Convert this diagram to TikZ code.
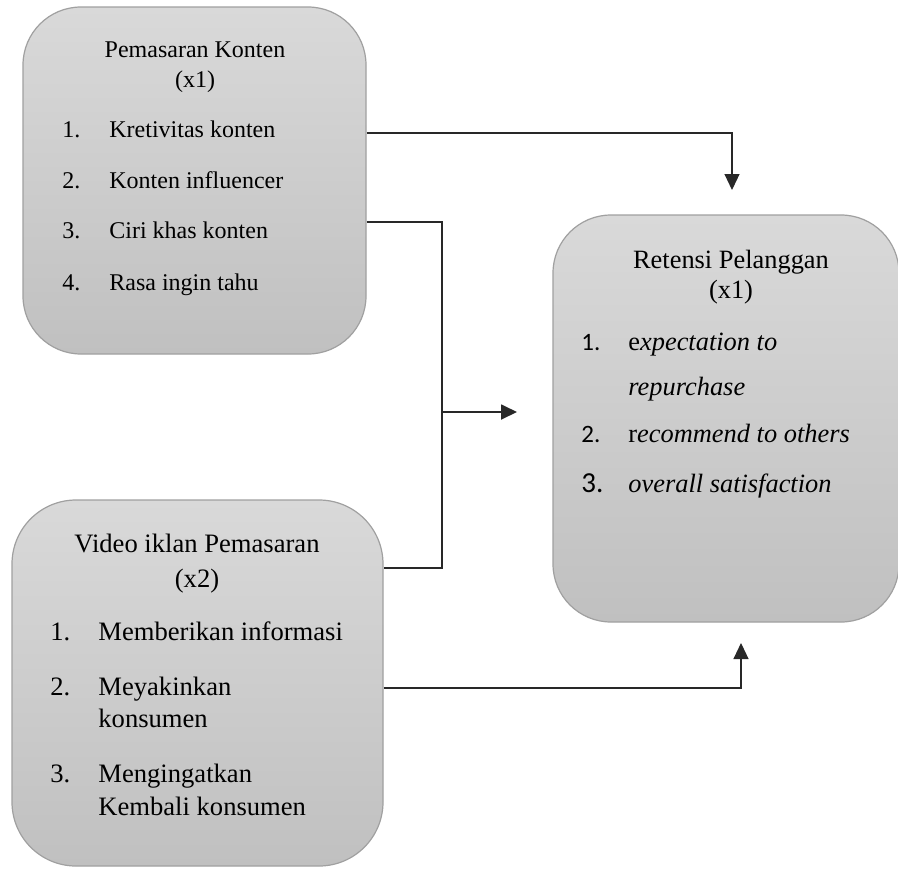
\documentclass[tikz,border=0pt]{standalone}
\usepackage{fontspec}
\setmainfont{Liberation Serif}
\newfontfamily\numfont{Carlito}
\usetikzlibrary{arrows.meta,positioning}

\definecolor{boxtop}{RGB}{217,217,217}
\definecolor{boxbottom}{RGB}{192,192,192}
\definecolor{boxline}{RGB}{160,160,160}
\definecolor{linkline}{RGB}{40,40,40}

\begin{document}
\begin{tikzpicture}[x=0.5pt, y=-0.5pt, >={Triangle[length=8pt,width=7.5pt]},
    varbox/.style={draw=boxline, line width=0.6pt, rounded corners=29pt,
        top color=boxtop, bottom color=boxbottom, inner sep=0pt},
    title/.style={anchor=base, inner sep=0pt},
    item/.style={anchor=base west, inner sep=0pt},
    link/.style={draw=linkline, line width=0.6pt}]

    \useasboundingbox (0,0) rectangle (898,868);

    % Variable boxes
    \node[varbox, minimum width=171.5pt, minimum height=173.5pt] (konten) at (194.5,180.5) {};
    \node[varbox, minimum width=185.5pt, minimum height=183pt, rounded corners=32pt] (video) at (197.5,683) {};
    \node[varbox, minimum width=173pt, minimum height=203.5pt] (retensi) at (726,418.5) {};

    % Pemasaran Konten (x1)
    \begin{scope}[font=\fontsize{12}{14}\selectfont]
        \node[title] (kontenT) at (195,57) {Pemasaran Konten};
        \node[title] (kontenX) at (195,87) {(x1)};
        \node[item] (kN1) at (62,137) {1.};
        \node[item] (kI1) at (109,137) {Kretivitas konten};
        \node[item] (kN2) at (62,188) {2.};
        \node[item] (kI2) at (109,188) {Konten influencer};
        \node[item] (kN3) at (62,238) {3.};
        \node[item] (kI3) at (109,238) {Ciri khas konten};
        \node[item] (kN4) at (62,290) {4.};
        \node[item] (kI4) at (109,290) {Rasa ingin tahu};
    \end{scope}

    % Video iklan Pemasaran (x2)
    \begin{scope}[font=\fontsize{13.3}{15}\selectfont]
        \node[title] (videoT) at (197,552) {Video iklan Pemasaran};
        \node[title] (videoX) at (197,587) {(x2)};
        \node[item] (vN1) at (50,640) {1.};
        \node[item] (vI1) at (98,640) {Memberikan informasi};
        \node[item] (vN2) at (50,695) {2.};
        \node[item] (vI2) at (98,695) {Meyakinkan};
        \node[item] (vI2b) at (98,727) {konsumen};
        \node[item] (vN3) at (50,782) {3.};
        \node[item] (vI3) at (98,782) {Mengingatkan};
        \node[item] (vI3b) at (98,815) {Kembali konsumen};
    \end{scope}

    % Retensi Pelanggan (x1)
    \begin{scope}[font=\fontsize{13.2}{15}\selectfont]
        \node[title] (retensiT) at (731,268) {Retensi Pelanggan};
        \node[title] (retensiX) at (731,298) {(x1)};
        \node[item, font=\numfont\fontsize{12.5}{14}\selectfont] (rN1) at (581,350) {1.};
        \node[item] (rI1) at (628,350) {e\textit{xpectation to}};
        \node[item] (rI1b) at (628,395) {\textit{repurchase}};
        \node[item, font=\numfont\fontsize{12.5}{14}\selectfont] (rN2) at (581,442) {2.};
        \node[item] (rI2) at (628,442) {r\textit{ecommend to others}};
        \node[item, font=\numfont\fontsize{14.5}{16}\selectfont] (rN3) at (581,492) {3.};
        \node[item] (rI3) at (628,492) {\textit{overall satisfaction}};
    \end{scope}

    % Connector points
    \coordinate (topBend) at (732,133);
    \coordinate (topTip) at (732,190);
    \coordinate (mergeTop) at (442,222);
    \coordinate (mergeMid) at (442,412);
    \coordinate (mergeBot) at (442,568);
    \coordinate (mergeTip) at (517,412);
    \coordinate (botBend) at (741,688);
    \coordinate (botTip) at (741,643);

    % Connectors
    \draw[link, ->] (konten.east |- topBend) -- (topBend) -- (topTip);
    \draw[link] (konten.east |- mergeTop) -- (mergeTop) -- (mergeBot) -- (video.east |- mergeBot);
    \draw[link, line width=0.9pt, ->] (mergeMid) -- (mergeTip);
    \draw[link, ->] (video.east |- botBend) -- (botBend) -- (botTip);

\end{tikzpicture}
\end{document}
